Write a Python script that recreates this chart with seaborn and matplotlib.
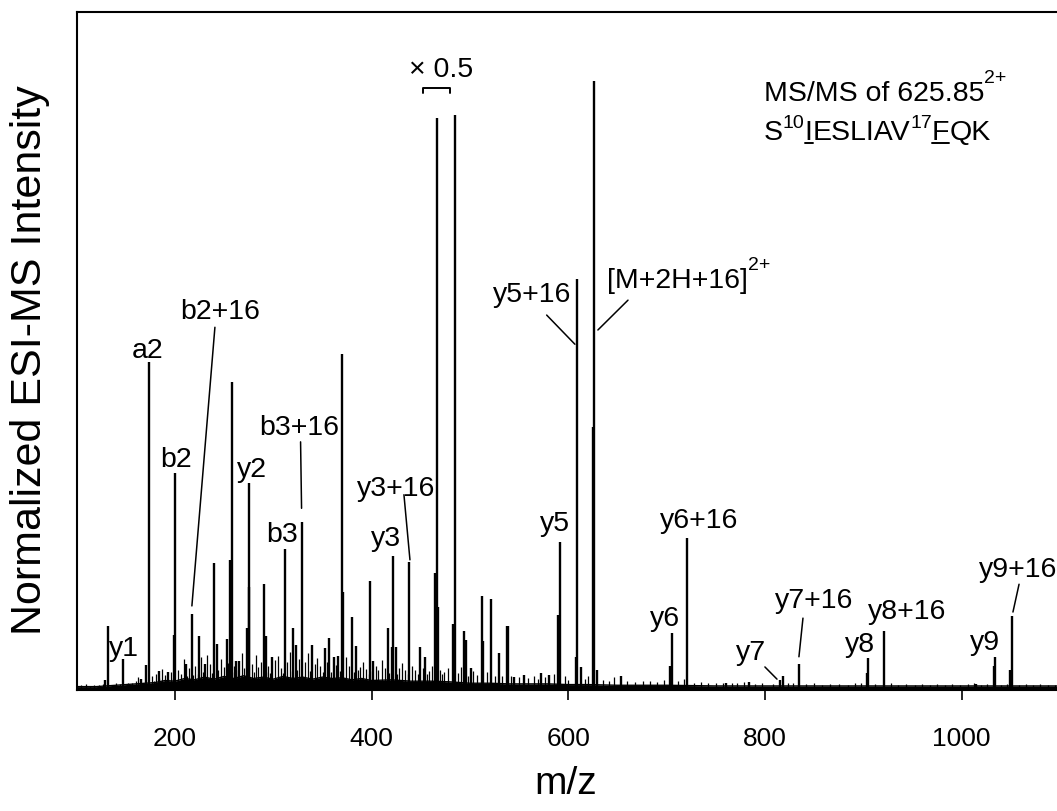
import matplotlib
matplotlib.use("Agg")
import matplotlib.pyplot as plt
from matplotlib.lines import Line2D
import seaborn as sns
import pandas as pd

# main fragment peaks (m/z, displayed intensity in % of axis height)
# note: the peaks at 466.7 and 484.4 are shown x0.5
peak_mz = [129.0, 131.9, 146.8, 166.0, 170.5, 173.6, 184.0, 193.2, 199.6, 200.3,
           211.2, 217.0, 224.9, 230.5, 239.7, 243.0, 252.6, 256.5, 257.7, 262.0,
           265.5, 272.9, 274.9, 275.8, 290.8, 292.5, 299.2, 311.9, 320.3, 322.7,
           329.4, 339.0, 352.5, 357.0, 361.8, 366.2, 369.5, 371.2, 380.0, 384.5,
           398.3, 401.7, 416.9, 420.3, 422.0, 424.5, 438.3, 449.0, 454.0, 464.4,
           466.7, 467.5, 482.8, 484.4, 493.9, 496.0, 500.7, 511.9, 513.5, 521.0,
           529.8, 537.3, 538.6, 545.0, 555.0, 572.0, 580.0, 590.0, 591.8, 607.8,
           608.5, 613.0, 625.0, 626.4, 629.5, 654.0, 703.5, 705.1, 721.0, 760.0,
           784.0, 815.5, 817.9, 834.2, 903.5, 905.0, 921.0, 1015.0, 1032.5, 1033.8,
           1049.5, 1050.8]
peak_int = [1.5, 9.4, 4.6, 1.6, 3.7, 48.4, 2.8, 2.7, 8.1, 32.0,
            3.8, 11.2, 7.9, 3.9, 18.7, 6.8, 7.5, 19.2, 45.4, 4.3,
            4.3, 9.1, 30.5, 15.2, 15.6, 7.9, 4.9, 20.8, 9.1, 6.7,
            24.8, 6.6, 6.2, 7.7, 4.8, 5.0, 49.6, 14.5, 10.8, 6.5,
            16.1, 4.3, 9.1, 6.3, 19.8, 6.3, 18.9, 6.3, 4.8, 17.2,
            84.4, 12.3, 9.8, 84.8, 8.7, 7.4, 3.2, 13.8, 7.2, 13.4,
            5.4, 9.4, 9.4, 1.9, 2.2, 2.5, 2.2, 11.1, 21.9, 4.9,
            60.6, 3.4, 38.8, 89.8, 3.0, 2.0, 3.5, 8.4, 22.4, 1.0,
            1.2, 1.5, 2.0, 3.9, 2.5, 4.7, 8.7, 0.9, 3.5, 4.8,
            3.0, 10.9]

# small noise peaks
grass_mz = [105, 110, 114, 118, 123, 127, 136, 140, 144, 152, 156, 160, 163, 177, 179,
            181, 184, 187, 190, 193, 196, 198, 203, 206, 209, 212, 214, 218, 220, 223,
            227, 229, 233, 236, 238, 244, 247, 250, 254, 258, 260, 264, 268, 270, 273,
            278, 280, 282, 285, 288, 293, 295, 297, 302, 305, 308, 310, 314, 317, 319,
            324, 326, 332, 335, 337, 342, 345, 348, 351, 355, 359, 364, 368, 374, 377,
            382, 386, 388, 391, 394, 397, 400, 404, 407, 411, 414, 418, 426, 428, 431,
            434, 437, 441, 444, 447, 452, 456, 458, 461, 470, 472, 474, 478, 488, 491,
            498, 503, 507, 517, 525, 533, 542, 550, 559, 565, 569, 576, 585, 597, 600,
            617, 620, 635, 641, 646, 660, 668, 676, 683, 690, 697, 712, 718, 728, 735,
            742, 750, 757, 766, 772, 779, 790, 797, 808, 823, 828, 842, 850, 858, 866,
            875, 884, 892, 898, 912, 928, 935, 943, 952, 960, 968, 975, 983, 990, 998,
            1006, 1012, 1020, 1026, 1040, 1046, 1058, 1065, 1072, 1080, 1088, 1095]
grass_int = [0.7, 0.9, 0.6, 0.8, 0.7, 0.9, 0.8, 1.0, 0.9, 1.1, 1.0, 1.3, 1.9, 2.0, 1.4,
             2.4, 1.7, 3.1, 2.2, 1.6, 2.6, 1.8, 3.0, 2.4, 4.6, 2.1, 3.2, 2.2, 3.5, 2.4,
             4.9, 2.6, 5.1, 3.8, 2.5, 3.0, 4.5, 3.4, 4.0, 2.7, 3.6, 2.9, 5.5, 3.2, 2.6,
             3.9, 2.7, 5.2, 3.4, 4.1, 2.6, 3.6, 2.5, 4.4, 5.0, 3.2, 2.5, 4.1, 5.6, 2.8,
             3.0, 4.6, 4.2, 5.4, 2.8, 3.8, 4.7, 3.5, 2.7, 4.1, 2.6, 3.7, 2.8, 4.8, 3.6,
             2.6, 3.0, 3.4, 4.2, 3.1, 2.4, 2.8, 3.5, 3.0, 4.4, 3.3, 2.5, 2.4, 3.2, 4.0,
             3.0, 2.4, 3.6, 2.9, 2.3, 3.2, 2.4, 2.8, 3.6, 3.0, 2.3, 2.6, 3.3, 2.5, 3.4,
             2.1, 2.8, 2.2, 2.6, 2.0, 2.1, 2.0, 1.9, 1.8, 2.0, 1.6, 1.9, 2.3, 2.0, 1.5,
             1.6, 2.1, 1.5, 1.4, 1.9, 1.3, 1.2, 1.4, 1.3, 1.2, 1.5, 1.3, 1.6, 1.1, 1.2,
             1.0, 1.1, 1.0, 1.1, 1.0, 1.2, 0.9, 1.0, 0.9, 1.0, 1.1, 0.9, 1.0, 0.8, 0.9,
             0.9, 0.8, 1.0, 1.1, 0.9, 1.0, 0.8, 0.9, 0.8, 0.9, 0.8, 0.9, 0.8, 0.9, 0.8,
             0.9, 1.0, 0.8, 0.9, 0.8, 0.9, 0.8, 0.9, 0.8, 0.9, 0.8, 0.8]

# baseline (noise floor) envelope
floor_mz = [100, 120, 140, 160, 170, 180, 190, 200, 210, 220, 230, 240, 250, 260, 270,
            280, 290, 300, 310, 320, 330, 340, 350, 360, 370, 380, 390, 400, 420, 440,
            460, 480, 500, 520, 540, 560, 580, 600, 620, 650, 700, 750, 800, 850, 900,
            950, 1000, 1050, 1100]
floor_int = [0.5, 0.5, 0.7, 0.9, 1.0, 1.1, 1.4, 1.3, 1.7, 1.5, 1.9, 1.6, 2.0, 1.7, 2.1,
             1.7, 1.9, 1.6, 2.0, 1.7, 1.9, 1.6, 1.9, 1.7, 1.8, 1.5, 1.7, 1.4, 1.5, 1.3,
             1.3, 1.2, 1.0, 1.0, 0.9, 0.9, 0.9, 0.8, 0.8, 0.7, 0.7, 0.6, 0.6, 0.6, 0.6,
             0.6, 0.6, 0.6, 0.6]

xticks = [200, 400, 600, 800, 1000]

sns.set_style("ticks")
plt.rcParams['font.family'] = ['Liberation Sans', 'DejaVu Sans']
plt.rcParams['text.color'] = 'black'
plt.rcParams['axes.labelcolor'] = 'black'
plt.rcParams['xtick.color'] = 'black'

fig = plt.figure(figsize=(10.57, 8.11), dpi=100)
ax = fig.add_axes([0.0724, 0.1492, 0.9305, 0.836])

floor = pd.DataFrame({"mz": floor_mz, "intensity": floor_int})
ax.fill_between(floor["mz"], 0, floor["intensity"], color="black", lw=0)
sns.lineplot(data=floor, x="mz", y="intensity", color="black", lw=1, ax=ax)
ax.vlines(grass_mz, 0, grass_int, color="black", lw=0.9)
ax.vlines(peak_mz, 0, peak_int, color="black", lw=1.7)

ax.set_xlim(100, 1100)
ax.set_ylim(0, 100)
ax.set_xticks(xticks)
ax.set_yticks([])
ax.tick_params(axis="x", direction="out", length=7, width=1.2, labelsize=19, pad=20,
               color="black", labelcolor="black")
for s in ax.spines.values():
    s.set_linewidth(1.5)
    s.set_color("black")
ax.set_xlabel("m/z", fontsize=28)
ax.xaxis.set_label_coords(0.497, -0.112)
ax.set_ylabel("Normalized ESI-MS Intensity", fontsize=31)
ax.yaxis.set_label_coords(-0.027, 0.487)

# ion labels
FS = 20.5
labels = [("y1", 148.1, 6.0), ("a2", 172.5, 50.0), ("b2", 201.0, 33.9), ("b2+16", 245.8, 55.8),
          ("y2", 278.3, 32.4), ("b3", 308.8, 22.9), ("b3+16", 326.1, 38.6), ("y3", 414.6, 22.3),
          ("y3+16", 424.7, 29.6), ("y5+16", 563.0, 58.3), ("y5", 586.4, 24.5),
          ("y6+16", 732.8, 24.9), ("y6", 698.3, 10.5), ("y7", 785.7, 5.5), ("y7+16", 849.8, 13.1),
          ("y8", 896.6, 6.6), ("y8+16", 944.4, 11.5), ("y9", 1023.7, 6.9), ("y9+16", 1057.6, 17.7)]
for t, x, y in labels:
    ax.text(x, y, t, fontsize=FS, ha="center", va="center")

leaders = [(240.7, 53.5, 217.3, 12.4), (327.8, 36.6, 328.8, 26.8), (432.9, 28.8, 439.0, 19.2),
           (578.0, 55.3, 606.7, 51.0), (660.7, 57.5, 630.1, 53.1), (799.9, 3.4, 812.2, 1.6),
           (838.6, 10.6, 834.5, 4.9), (1058.3, 15.6, 1052.1, 11.5)]
for x0, y0, x1, y1 in leaders:
    ax.plot([x0, x1], [y0, y1], color="black", lw=1.1)

# x0.5 bracket
ax.plot([452.5, 452.5, 479.6, 479.6], [88.0, 88.8, 88.8, 88.0], color="black", lw=1.4)
ax.text(470.4, 91.4, "× 0.5", fontsize=FS, ha="center", va="center")


def chain(prev, base, s, size=FS, dy=0):
    return ax.annotate(s, xy=(1, 0), xycoords=(prev, base), xytext=(0, dy),
                       textcoords="offset points", fontsize=size, va="bottom", ha="left")


def sup(prev, s, dy):
    return ax.annotate(s, xy=(1, 1), xycoords=prev, xytext=(0, dy),
                       textcoords="offset points", fontsize=14, va="top", ha="left")


# [M+2H+16]2+
m = ax.text(639.0, 59.3, "[M+2H+16]", fontsize=FS, va="baseline", ha="left")
sup(m, "2+", 8)

# precursor info
t1 = ax.text(798.9, 86.9, "MS/MS of 625.85", fontsize=FS, va="baseline", ha="left")
sup(t1, "2+", 8)
s0 = ax.text(798.9, 81.1, "S", fontsize=FS, va="baseline", ha="left")
p = sup(s0, "10", 3.4)
uI = chain(p, s0, "I")
p = chain(uI, s0, "ESLIAV")
p = sup(p, "17", 3.4)
uF = chain(p, s0, "F")
chain(uF, s0, "QK")

fig.canvas.draw()
r = fig.canvas.get_renderer()
inv = fig.transFigure.inverted()
for t in (uI, uF):
    bb = t.get_window_extent(r)
    (x0, y0), (x1, _) = inv.transform([(bb.x0, bb.y0 + 3.5), (bb.x1, bb.y0)])
    fig.add_artist(Line2D([x0, x1], [y0, y0], transform=fig.transFigure, color="black", lw=1.4))

fig.savefig("out.png", dpi=100)
